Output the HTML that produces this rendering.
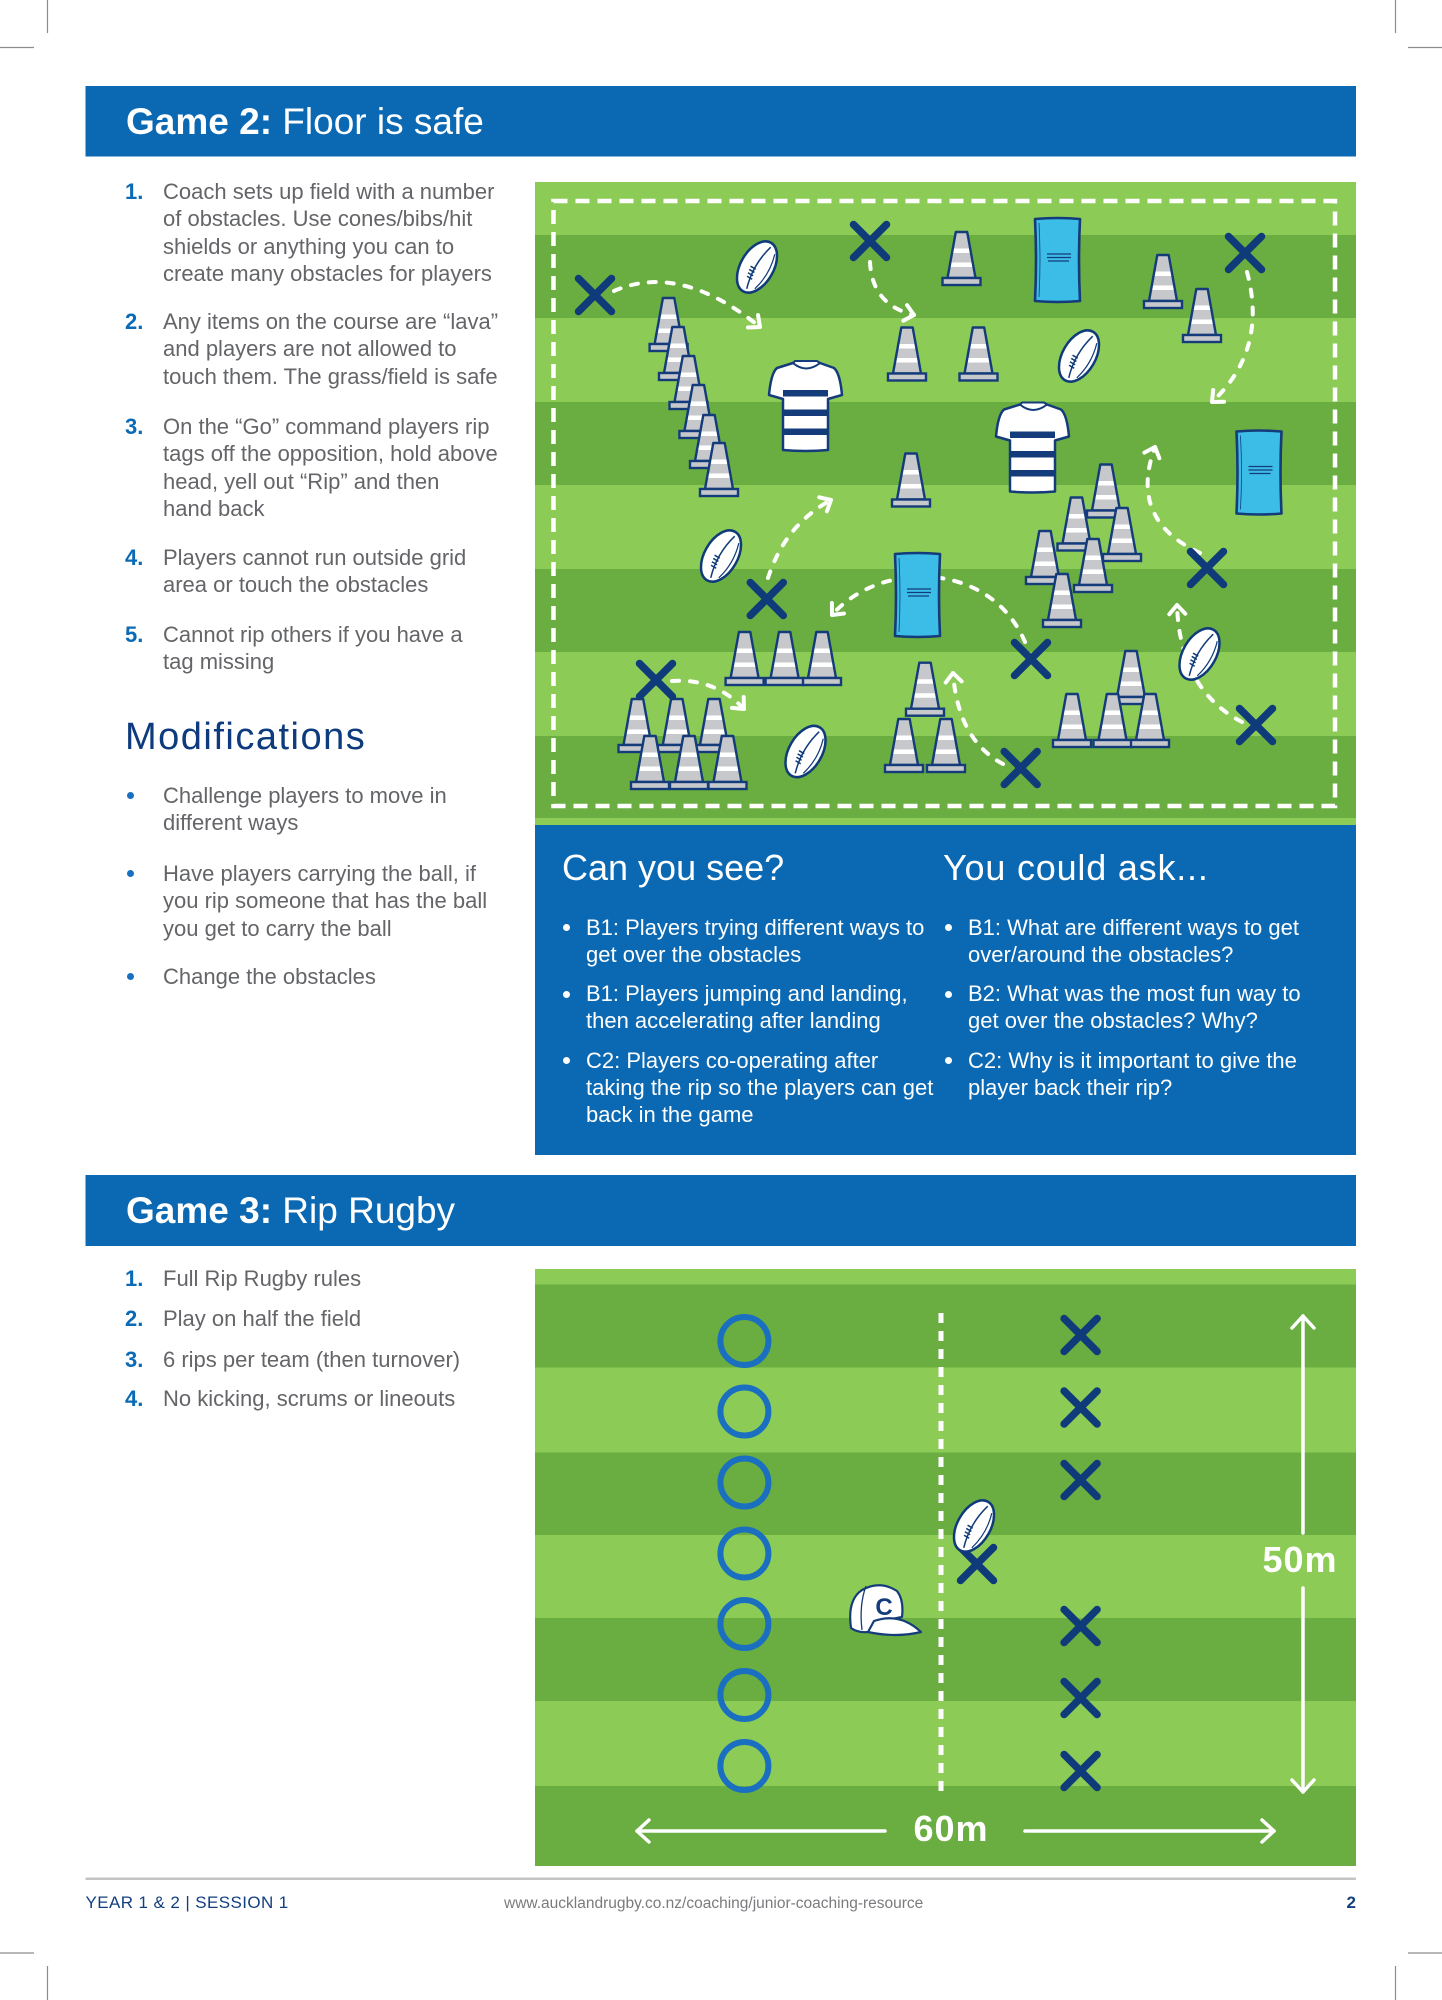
<!DOCTYPE html>
<html><head><meta charset="utf-8">
<style>
html,body{margin:0;padding:0}
body{width:1442px;height:2000px;position:relative;background:#fff;font-family:"Liberation Sans",Arial,sans-serif;overflow:hidden}
.t{position:absolute;font-size:22px;line-height:27.3px;color:#646568;white-space:nowrap}
.n{position:absolute;left:125px;font-size:22px;line-height:27.3px;color:#0a6ab5;font-weight:bold}
.w{position:absolute;font-size:22px;line-height:27px;color:#fff;white-space:nowrap}
.dot{position:absolute;width:7px;height:7px;border-radius:50%}
.h{position:absolute;left:126px;font-size:37px;line-height:37px;color:#fff;white-space:nowrap}
.h b{font-weight:bold}
</style></head>
<body>
<svg width="1442" height="2000" style="position:absolute;left:0;top:0" xmlns="http://www.w3.org/2000/svg">
<defs>
<g id="cone">
<path d="M-5.7,-54 L5.7,-54 L14,-8 L-14,-8Z" fill="#c7c8cc"/>
<path d="M-8.6,-37.5 L8.6,-37.5 L9.4,-33 L-9.4,-33Z" fill="#fff"/>
<path d="M-11.1,-23.5 L11.1,-23.5 L11.9,-19 L-11.9,-19Z" fill="#fff"/>
<path d="M-5.7,-54 L5.7,-54 L14,-8 L-14,-8Z" fill="none" stroke="#143c7a" stroke-width="2.4" stroke-linejoin="round"/>
<rect x="-19" y="-8" width="38" height="7" fill="#c7c8cc" stroke="#143c7a" stroke-width="2.4"/>
</g>
<path id="xm" d="M-16.5,-16.5 L16.5,16.5 M16.5,-16.5 L-16.5,16.5" stroke="#0f3b7a" stroke-width="7.5" stroke-linecap="round" fill="none"/>
<g id="ball">
<ellipse rx="28" ry="16.5" fill="#fff" stroke="#0f3b7a" stroke-width="2.5"/>
<path d="M-24,2 Q0,-5 24,2" fill="none" stroke="#0f3b7a" stroke-width="1.5"/>
<path d="M-13,-4 v6 M-9.5,-5 v6 M-6,-5.5 v6 M-2.5,-6 v6" stroke="#0f3b7a" stroke-width="1.5"/>
<path d="M-20,9 Q0,15 20,9" fill="none" stroke="#0f3b7a" stroke-width="1.2"/>
</g>
<g id="jersey">
<path d="M25,3 Q38,9 52,3 L66,8 Q72,13 74,35 L60,39 L60,90 Q37.5,92 15,90 L15,39 L1,35 Q3,13 9,8 Z" fill="#fff" stroke="#143c7a" stroke-width="2.5" stroke-linejoin="round"/>
<rect x="15" y="30" width="45" height="6.5" fill="#143c7a"/>
<rect x="15" y="49.5" width="45" height="6.5" fill="#143c7a"/>
<rect x="15" y="68.5" width="45" height="6.5" fill="#143c7a"/>
<path d="M27,1 L49,1 L52,3 Q38,14 25,3 Z" fill="#fff" stroke="#143c7a" stroke-width="2" stroke-linejoin="round"/>
</g>
<g id="shield">
<path d="M2,2 Q24.5,0 47,2 Q45,43 47,84 Q24.5,86 2,84 Q4,43 2,2Z" fill="#3bbde8" stroke="#143c7a" stroke-width="2.6" stroke-linejoin="round"/>
<path d="M6,6 Q8,43 6,80" fill="none" stroke="#143c7a" stroke-width="0.8"/>
<path d="M14,37 H38 M14,40.5 H38 M15,44 H36" stroke="#143c7a" stroke-width="1.3"/>
</g>
<marker id="ah" viewBox="-13 -11 17 22" markerWidth="17" markerHeight="22" refX="0" refY="0" orient="auto" markerUnits="userSpaceOnUse">
<path d="M-9,-8 L0,0 L-9,8" fill="none" stroke="#fff" stroke-width="4" stroke-linecap="round" stroke-linejoin="round" stroke-dasharray="none"/>
</marker>
</defs>

<!-- crop marks -->
<g stroke="#8c8c8c" stroke-width="1.2">
<line x1="47.5" y1="0" x2="47.5" y2="33"/><line x1="0" y1="47.5" x2="34" y2="47.5"/>
<line x1="1395.5" y1="0" x2="1395.5" y2="33"/><line x1="1408" y1="47.5" x2="1442" y2="47.5"/>
<line x1="0" y1="1953" x2="34" y2="1953"/><line x1="1408" y1="1953" x2="1442" y2="1953"/>
<line x1="47.5" y1="1966" x2="47.5" y2="2000"/><line x1="1395.5" y1="1966" x2="1395.5" y2="2000"/>
</g>

<!-- header bars -->
<rect x="85.5" y="86" width="1270.5" height="70.5" fill="#0b69b4"/>
<rect x="85.5" y="1175" width="1270.5" height="71" fill="#0b69b4"/>
<rect x="535" y="825" width="821" height="330" fill="#0b69b4"/>

<!-- FIELD 1 -->
<rect x="535" y="182" width="821" height="643" fill="#8ccb56"/>
<g fill="#6aad40">
<rect x="535" y="235" width="821" height="83"/>
<rect x="535" y="402" width="821" height="83"/>
<rect x="535" y="569" width="821" height="83"/>
<rect x="535" y="736" width="821" height="82"/>
</g>
<rect x="553.5" y="201" width="781.5" height="605" fill="none" stroke="#fff" stroke-width="4.5" stroke-dasharray="14 8"/>

<!-- dashed arrows -->
<g fill="none" stroke="#fff" stroke-width="4" stroke-linecap="round" stroke-dasharray="7 11" marker-end="url(#ah)">
<path d="M614,291 Q680,262 760,327"/>
<path d="M870,262 Q872,305 914,315"/>
<path d="M1247,272 Q1268,350 1212,402"/>
<path d="M768,578 Q785,525 831,500"/>
<path d="M1025,642 C990,560 880,560 832,615"/>
<path d="M1200,553 Q1128,520 1155,447"/>
<path d="M1242,722 Q1180,690 1177,605"/>
<path d="M1003,764 Q958,740 953,673"/>
<path d="M672,681 Q715,678 744,709"/>
</g>

<!-- shields -->
<use href="#shield" x="1033" y="217"/>
<use href="#shield" x="1234.5" y="429.5"/>
<use href="#shield" x="893" y="552"/>

<!-- jerseys -->
<use href="#jersey" x="768" y="360"/>
<use href="#jersey" x="995" y="401.5"/>

<!-- cones -->
<use href="#cone" x="668.6" y="352"/>
<use href="#cone" x="678" y="381"/>
<use href="#cone" x="688.5" y="410"/>
<use href="#cone" x="698.4" y="439"/>
<use href="#cone" x="709" y="469"/>
<use href="#cone" x="719" y="497"/>
<use href="#cone" x="961.5" y="286"/>
<use href="#cone" x="907" y="381.5"/>
<use href="#cone" x="978.5" y="381.5"/>
<use href="#cone" x="1163" y="309"/>
<use href="#cone" x="1202" y="343"/>
<use href="#cone" x="911" y="507.5"/>
<use href="#cone" x="1106" y="518.5"/>
<use href="#cone" x="1076.5" y="551.5"/>
<use href="#cone" x="1122" y="562"/>
<use href="#cone" x="1045" y="585"/>
<use href="#cone" x="1093" y="593"/>
<use href="#cone" x="1062" y="628"/>
<use href="#cone" x="744.6" y="686"/>
<use href="#cone" x="784.6" y="686"/>
<use href="#cone" x="822" y="686"/>
<use href="#cone" x="637.5" y="753"/>
<use href="#cone" x="676.8" y="753"/>
<use href="#cone" x="714" y="753"/>
<use href="#cone" x="650" y="790"/>
<use href="#cone" x="689" y="790"/>
<use href="#cone" x="727.5" y="790"/>
<use href="#cone" x="925" y="716.7"/>
<use href="#cone" x="904" y="773"/>
<use href="#cone" x="946" y="773"/>
<use href="#cone" x="1131" y="705"/>
<use href="#cone" x="1072" y="748"/>
<use href="#cone" x="1112.5" y="748"/>
<use href="#cone" x="1150" y="748"/>

<!-- X marks field 1 -->
<use href="#xm" x="595" y="295"/>
<use href="#xm" x="870" y="241"/>
<use href="#xm" x="1245" y="253"/>
<use href="#xm" x="766.8" y="599"/>
<use href="#xm" x="656" y="680"/>
<use href="#xm" x="1207" y="568"/>
<use href="#xm" x="1031" y="659"/>
<use href="#xm" x="1256" y="725"/>
<use href="#xm" x="1020.7" y="768"/>

<!-- balls field 1 -->
<use href="#ball" transform="translate(757,267) rotate(-60)"/>
<use href="#ball" transform="translate(1079,356) rotate(-60)"/>
<use href="#ball" transform="translate(721,556) rotate(-60)"/>
<use href="#ball" transform="translate(1199.5,654) rotate(-60)"/>
<use href="#ball" transform="translate(805.5,751.5) rotate(-60)"/>

<!-- FIELD 2 -->
<rect x="535" y="1269" width="821" height="597" fill="#8ccb56"/>
<g fill="#6aad40">
<rect x="535" y="1284.5" width="821" height="83"/>
<rect x="535" y="1452.5" width="821" height="82.5"/>
<rect x="535" y="1618" width="821" height="83"/>
<rect x="535" y="1786" width="821" height="80"/>
</g>
<line x1="941" y1="1313" x2="941" y2="1794" stroke="#fff" stroke-width="5" stroke-dasharray="10 8"/>
<g fill="none" stroke="#1a6fc0" stroke-width="6">
<circle cx="744.4" cy="1341" r="24"/>
<circle cx="744.4" cy="1411.5" r="24"/>
<circle cx="744.4" cy="1482.5" r="24"/>
<circle cx="744.4" cy="1553.5" r="24"/>
<circle cx="744.4" cy="1624" r="24"/>
<circle cx="744.4" cy="1695" r="24"/>
<circle cx="744.4" cy="1766" r="24"/>
</g>
<use href="#xm" x="1080.6" y="1335"/>
<use href="#xm" x="1080.6" y="1407.5"/>
<use href="#xm" x="1080.6" y="1480"/>
<use href="#xm" x="1080.6" y="1626"/>
<use href="#xm" x="1080.6" y="1698"/>
<use href="#xm" x="1080.6" y="1771"/>
<use href="#xm" x="977" y="1564"/>
<use href="#ball" transform="translate(974,1526) rotate(-60)"/>

<!-- cap -->
<g stroke="#143c7a" stroke-width="2.2" stroke-linejoin="round" fill="#fff">
<path d="M851,1628 Q847,1600 862,1590 Q880,1580 897,1591 Q904,1600 902,1617 L876,1622 L868,1632 Q858,1633 851,1628 Z"/>
<path d="M874,1621 Q900,1612 921,1632 Q896,1638 868,1632 Z"/>
<path d="M866,1586 Q859,1605 862,1630" fill="none" stroke-width="1.3"/>
</g>
<text x="884" y="1615" font-family="Liberation Sans, Arial, sans-serif" font-size="24" font-weight="bold" fill="#143c7a" text-anchor="middle">C</text>

<!-- measurement arrows -->
<g stroke="#fff" stroke-width="3.5" fill="none" stroke-linecap="round" stroke-linejoin="round">
<line x1="1303" y1="1316" x2="1303" y2="1533"/>
<path d="M1292,1328 L1303,1316 L1314,1328"/>
<line x1="1303" y1="1588" x2="1303" y2="1792"/>
<path d="M1292,1780 L1303,1792 L1314,1780"/>
<line x1="637" y1="1831" x2="885" y2="1831"/>
<path d="M649,1820 L637,1831 L649,1842"/>
<line x1="1025" y1="1831" x2="1274" y2="1831"/>
<path d="M1262,1820 L1274,1831 L1262,1842"/>
</g>
<text x="1300" y="1572" font-family="Liberation Sans, Arial, sans-serif" font-size="36" font-weight="bold" fill="#fff" text-anchor="middle" letter-spacing="1">50m</text>
<text x="951" y="1841" font-family="Liberation Sans, Arial, sans-serif" font-size="36" font-weight="bold" fill="#fff" text-anchor="middle" letter-spacing="1">60m</text>

<!-- footer line -->
<rect x="85.5" y="1877.5" width="1270.5" height="2.5" fill="#c4c4c4"/>
</svg>

<!-- Headers -->
<div class="h" style="top:103px"><b>Game 2:</b> Floor is safe</div>
<div class="h" style="top:1192px"><b>Game 3:</b> Rip Rugby</div>

<!-- Game 2 list -->
<div class="n" style="top:178px">1.</div>
<div class="t" style="left:163px;top:178px">Coach sets up field with a number<br>of obstacles. Use cones/bibs/hit<br>shields or anything you can to<br>create many obstacles for players</div>
<div class="n" style="top:308px">2.</div>
<div class="t" style="left:163px;top:308px">Any items on the course are “lava”<br>and players are not allowed to<br>touch them. The grass/field is safe</div>
<div class="n" style="top:413px">3.</div>
<div class="t" style="left:163px;top:413px">On the “Go” command players rip<br>tags off the opposition, hold above<br>head, yell out “Rip” and then<br>hand back</div>
<div class="n" style="top:544px">4.</div>
<div class="t" style="left:163px;top:544px">Players cannot run outside grid<br>area or touch the obstacles</div>
<div class="n" style="top:621px">5.</div>
<div class="t" style="left:163px;top:621px">Cannot rip others if you have a<br>tag missing</div>

<!-- Modifications -->
<div style="position:absolute;left:125px;top:718px;font-size:38px;line-height:38px;color:#0d3b7d;letter-spacing:1.5px;white-space:nowrap">Modifications</div>
<div class="dot" style="left:126.5px;top:792px;background:#1a6fc0"></div>
<div class="t" style="left:163px;top:782px">Challenge players to move in<br>different ways</div>
<div class="dot" style="left:126.5px;top:870px;background:#1a6fc0"></div>
<div class="t" style="left:163px;top:860px">Have players carrying the ball, if<br>you rip someone that has the ball<br>you get to carry the ball</div>
<div class="dot" style="left:126.5px;top:973px;background:#1a6fc0"></div>
<div class="t" style="left:163px;top:963px">Change the obstacles</div>

<!-- Blue box -->
<div style="position:absolute;left:562px;top:850px;font-size:36px;line-height:36px;color:#fff;white-space:nowrap">Can you see?</div>
<div style="position:absolute;left:943px;top:850px;font-size:36px;line-height:36px;color:#fff;white-space:nowrap;letter-spacing:0.8px">You could ask...</div>

<div class="dot" style="left:562.5px;top:924px;background:#fff"></div>
<div class="w" style="left:586px;top:913.5px">B1: Players trying different ways to<br>get over the obstacles</div>
<div class="dot" style="left:562.5px;top:990.5px;background:#fff"></div>
<div class="w" style="left:586px;top:980px">B1: Players jumping and landing,<br>then accelerating after landing</div>
<div class="dot" style="left:562.5px;top:1057px;background:#fff"></div>
<div class="w" style="left:586px;top:1046.5px">C2: Players co-operating after<br>taking the rip so the players can get<br>back in the game</div>

<div class="dot" style="left:944.5px;top:924px;background:#fff"></div>
<div class="w" style="left:968px;top:913.5px">B1: What are different ways to get<br>over/around the obstacles?</div>
<div class="dot" style="left:944.5px;top:990.5px;background:#fff"></div>
<div class="w" style="left:968px;top:980px">B2: What was the most fun way to<br>get over the obstacles? Why?</div>
<div class="dot" style="left:944.5px;top:1057px;background:#fff"></div>
<div class="w" style="left:968px;top:1046.5px">C2: Why is it important to give the<br>player back their rip?</div>

<!-- Game 3 list -->
<div class="n" style="top:1265px">1.</div>
<div class="t" style="left:163px;top:1265px">Full Rip Rugby rules</div>
<div class="n" style="top:1305px">2.</div>
<div class="t" style="left:163px;top:1305px">Play on half the field</div>
<div class="n" style="top:1345.5px">3.</div>
<div class="t" style="left:163px;top:1345.5px">6 rips per team (then turnover)</div>
<div class="n" style="top:1385px">4.</div>
<div class="t" style="left:163px;top:1385px">No kicking, scrums or lineouts</div>

<!-- Footer -->
<div style="position:absolute;left:85.5px;top:1893px;font-size:17px;line-height:20px;color:#123f7e;white-space:nowrap;letter-spacing:0.4px">YEAR 1 &amp; 2 | SESSION 1</div>
<div style="position:absolute;left:504px;top:1894px;font-size:15.5px;line-height:20px;color:#7a7b7e;white-space:nowrap">www.aucklandrugby.co.nz/coaching/junior-coaching-resource</div>
<div style="position:absolute;right:86px;top:1893px;font-size:17px;line-height:20px;color:#123f7e;font-weight:bold">2</div>
</body></html>
